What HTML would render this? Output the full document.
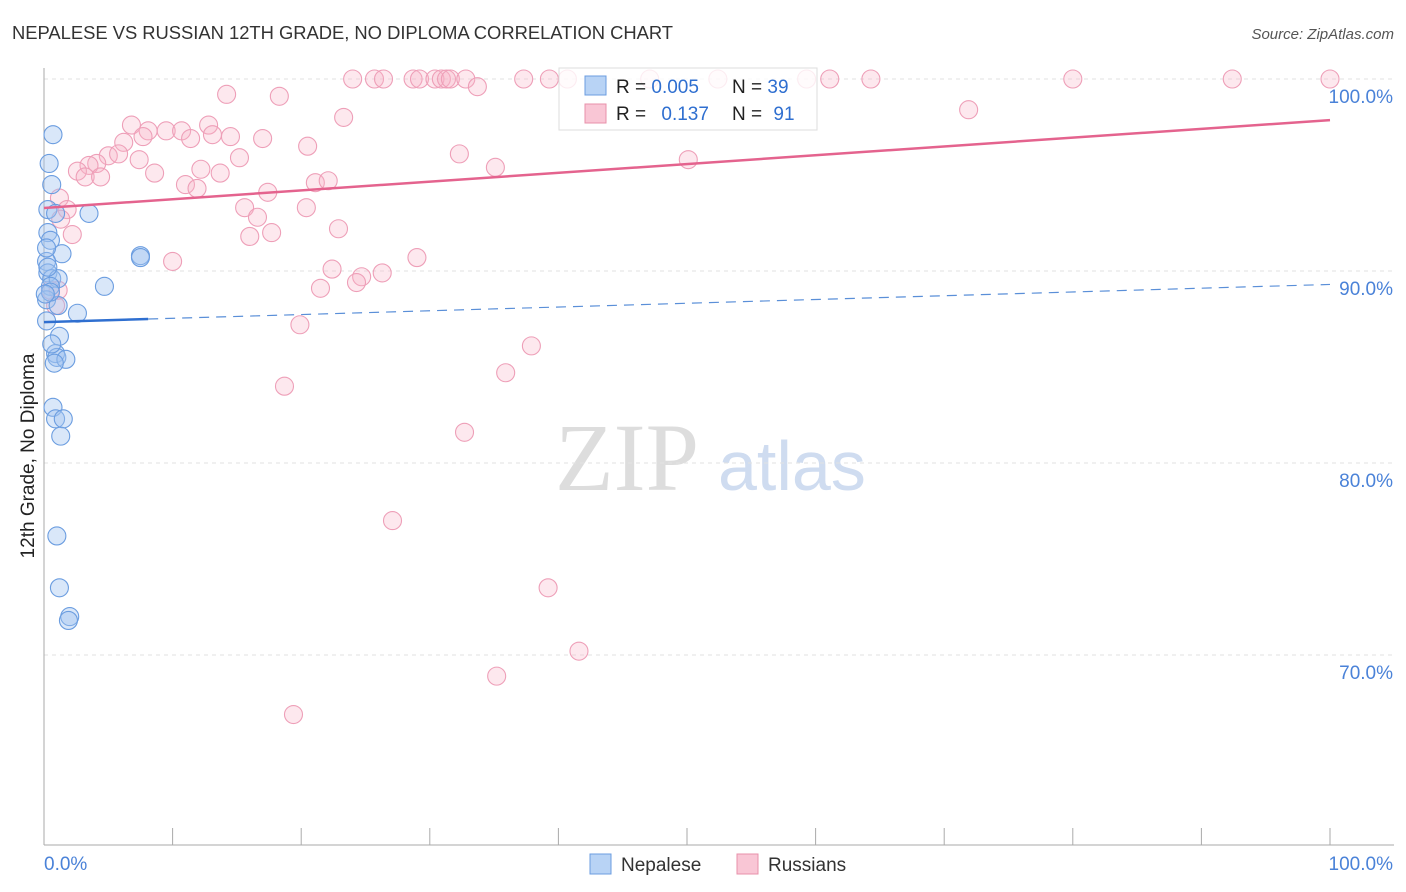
<!DOCTYPE html>
<html><head><meta charset="utf-8"><style>
body{margin:0;background:#fff;font-family:"Liberation Sans",sans-serif}
svg{display:block}
</style></head><body>
<svg id="chart" width="1406" height="892" xmlns="http://www.w3.org/2000/svg">
<text x="12" y="39" font-size="18.4" fill="#333" textLength="661">NEPALESE VS RUSSIAN 12TH GRADE, NO DIPLOMA CORRELATION CHART</text>
<text x="1394" y="39" font-size="15" fill="#555" text-anchor="end" font-style="italic">Source: ZipAtlas.com</text>
<text x="34" y="456" font-size="19" fill="#222" text-anchor="middle" transform="rotate(-90 34 456)">12th Grade, No Diploma</text>
<text x="555" y="490" font-size="96" fill="#ddd" font-family="Liberation Serif,serif">ZIP</text>
<text x="718" y="490" font-size="70" fill="#cfdcf0">atlas</text>
<g id="grid"></g><g id="axes"></g><g id="pts"></g><g id="lines"></g>
<g>
<rect x="559" y="68" width="258" height="62" fill="rgba(255,255,255,0.8)" stroke="#ddd"/>
<rect x="585" y="76" width="21" height="19" fill="#b8d3f5" stroke="#6b9de0"/>
<rect x="585" y="104" width="21" height="19" fill="#f9c6d5" stroke="#e890aa"/>
<text x="616" y="93" font-size="19" fill="#222">R = <tspan fill="#2f6fd0">0.005</tspan></text>
<text x="732" y="93" font-size="19" fill="#222">N = <tspan fill="#2f6fd0">39</tspan></text>
<text x="616" y="120" font-size="19" fill="#222">R = <tspan fill="#2f6fd0" dx="10">0.137</tspan></text>
<text x="732" y="120" font-size="19" fill="#222">N = <tspan fill="#2f6fd0" dx="6">91</tspan></text>
</g>
<g>
<rect x="590" y="854" width="21" height="20" fill="#b8d3f5" stroke="#6b9de0"/>
<text x="621" y="871" font-size="19" fill="#333">Nepalese</text>
<rect x="737" y="854" width="21" height="20" fill="#f9c6d5" stroke="#e890aa"/>
<text x="768" y="871" font-size="19" fill="#333">Russians</text>
</g>
</svg>
<script>
const blueX=[0.7,0.4,0.6,0.3,0.9,3.5,0.3,0.5,1.4,0.2,0.3,0.6,1.1,0.5,4.7,0.2,1.1,2.6,1.2,0.9,1.0,1.7,0.8,0.7,0.9,1.5,1.3,1.0,1.2,2.0,1.9,7.5,7.5,0.2,0.3,0.5,0.2,0.6,0.1];
const blueY=[97.1,95.6,94.5,93.2,93.0,93.0,92.0,91.6,90.9,90.5,89.9,89.6,89.6,89.2,89.2,88.5,88.2,87.8,86.6,85.7,85.5,85.4,85.2,82.9,82.3,82.3,81.4,76.2,73.5,72.0,71.8,90.8,90.7,91.2,90.2,88.9,87.4,86.2,88.8];
const pinkX=[24.0,25.7,26.4,28.7,29.2,30.4,30.9,31.3,31.6,32.8,37.3,39.3,40.7,47.1,52.4,59.3,61.1,64.3,80.0,92.4,100,33.7,14.2,18.3,23.3,71.9,6.8,8.1,9.5,10.7,12.8,11.4,7.7,6.2,14.5,17.0,20.5,13.1,5.0,5.8,7.4,4.1,3.5,2.6,3.2,4.4,8.6,15.2,32.3,35.1,50.1,12.2,13.7,11.0,11.9,17.4,21.1,22.1,1.2,1.8,15.6,16.6,20.4,16.0,17.7,22.9,2.2,1.3,10.0,22.4,29.0,24.7,26.3,24.3,21.5,19.9,0.9,37.9,18.7,35.9,32.7,27.1,39.2,41.6,35.2,19.4,0.5,1.1];
const pinkY=[100,100,100,100,100,100,100,100,100,100,100,100,100,100,100,100,100,100,100,100,100,99.6,99.2,99.1,98.0,98.4,97.6,97.3,97.3,97.3,97.6,96.9,97.0,96.7,97.0,96.9,96.5,97.1,96.0,96.1,95.8,95.6,95.5,95.2,94.9,94.9,95.1,95.9,96.1,95.4,95.8,95.3,95.1,94.5,94.3,94.1,94.6,94.7,93.8,93.2,93.3,92.8,93.3,91.8,92.0,92.2,91.9,92.7,90.5,90.1,90.7,89.7,89.9,89.4,89.1,87.2,88.2,86.1,84.0,84.7,81.6,77.0,73.5,70.2,68.9,66.9,89.0,89.0];
const yTicks=[100,90,80,70];
const yTickLabels=["100.0%","90.0%","80.0%","70.0%"];
const pinkFit=[93.28,97.86];
const blueFit=[87.34,89.3];
const NS="http://www.w3.org/2000/svg";
const sx=v=>44+v*12.86, sy=v=>79+(100-v)*19.2;
function mk(t,a,p){const e=document.createElementNS(NS,t);for(const k in a)e.setAttribute(k,a[k]);p.appendChild(e);return e;}
const grid=document.getElementById('grid'),axes=document.getElementById('axes'),pts=document.getElementById('pts'),lines=document.getElementById('lines');
yTicks.forEach((t,i)=>{
 const g=mk('line',{x1:44,x2:1394,y1:sy(t),y2:sy(t),stroke:'#e2e2e2','stroke-dasharray':'4,4'},grid);
 
 
 const l=mk('text',{x:1393,y:sy(t)+24,'font-size':19,fill:'#4a82d8','text-anchor':'end'},axes);
 l.textContent=yTickLabels[i];
 
 
});
mk('line',{x1:44,x2:44,y1:68,y2:845,stroke:'#aaa'},axes);
mk('line',{x1:44,x2:1394,y1:845,y2:845,stroke:'#aaa'},axes);
for(let i=0;i<=10;i++){const t=mk('line',{x1:sx(i*10),x2:sx(i*10),y1:828,y2:845,stroke:'#aaa'},axes);
 
 }
const x0=mk('text',{x:44,y:870,'font-size':19,fill:'#4a82d8'},axes);x0.textContent='0.0%';


const x1=mk('text',{x:1393,y:870,'font-size':19,fill:'#4a82d8','text-anchor':'end'},axes);x1.textContent='100.0%';


pinkX.forEach((v,i)=>{const c=mk('circle',{cx:sx(v),cy:sy(pinkY[i]),r:9,fill:'rgba(248,180,200,0.3)',stroke:'#ee9fb8','stroke-width':1.1},pts);
 
 });
blueX.forEach((v,i)=>{const c=mk('circle',{cx:sx(v),cy:sy(blueY[i]),r:9,fill:'rgba(160,195,240,0.4)',stroke:'#6b9de0','stroke-width':1.1},pts);
 
 });
const pl=mk('line',{x1:sx(0),y1:sy(pinkFit[0]),x2:sx(100),y2:sy(pinkFit[1]),stroke:'#e4638e','stroke-width':2.5},lines);


const by=x=>blueFit[0]+(blueFit[1]-blueFit[0])*x/100;
const bl=mk('line',{x1:sx(0),y1:sy(by(0)),x2:sx(8.1),y2:sy(by(8.1)),stroke:'#2f6fd0','stroke-width':2.5},lines);


const bd=mk('line',{x1:sx(8.1),y1:sy(by(8.1)),x2:sx(100),y2:sy(by(100)),stroke:'#5a8fd8','stroke-width':1.2,'stroke-dasharray':'10,7'},lines);


</script>
</body></html>
